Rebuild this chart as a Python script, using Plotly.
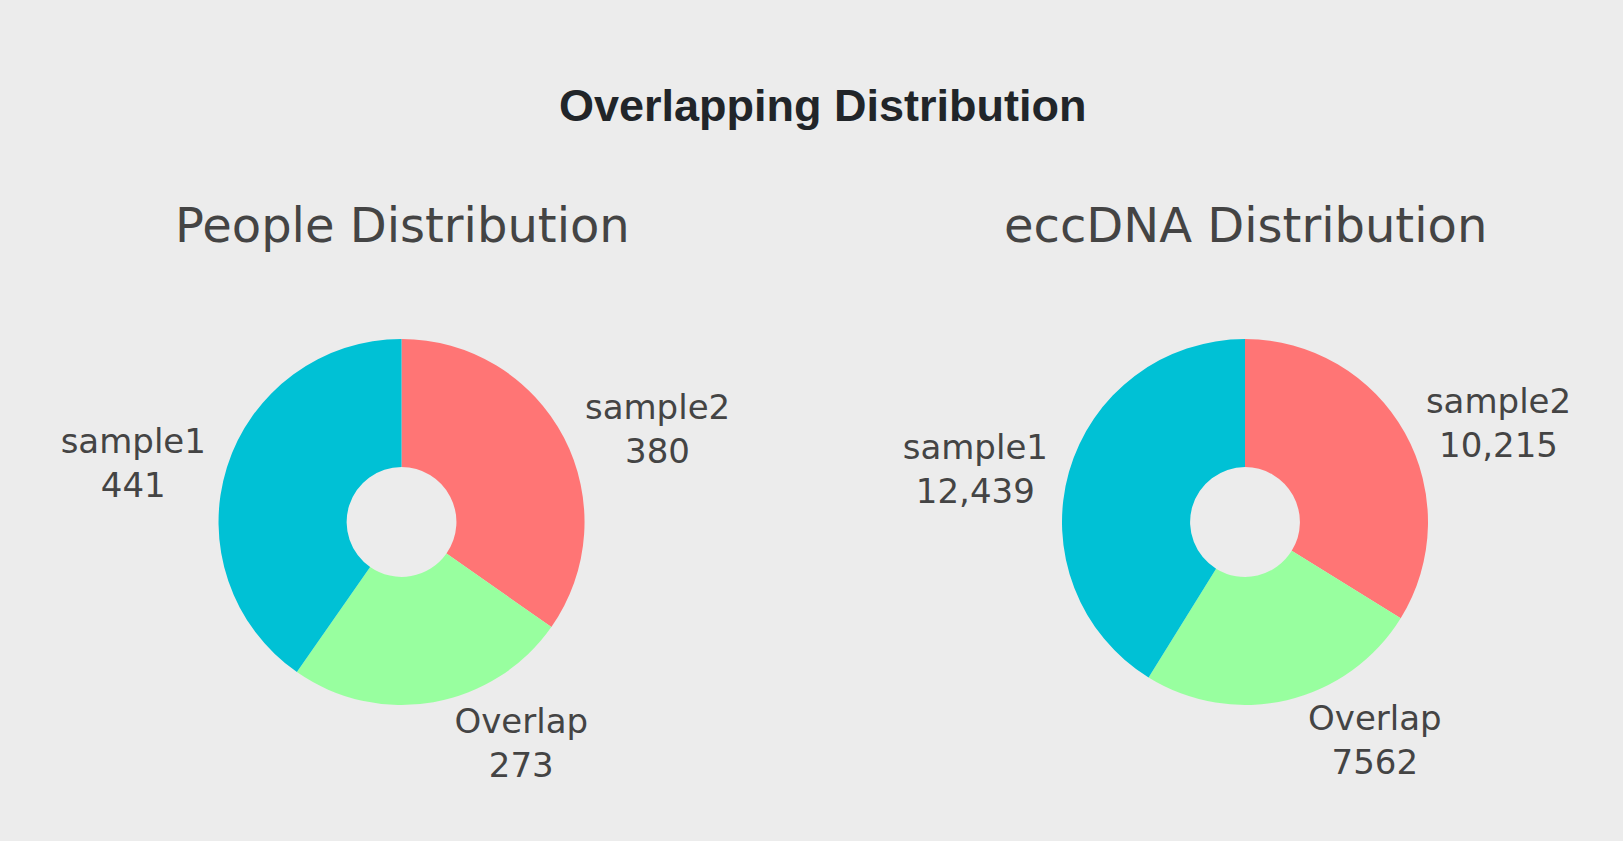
import plotly.graph_objects as go

# Data
labels = ["sample2", "Overlap", "sample1"]
people_values = [380, 273, 441]
eccdna_values = [10215, 7562, 12439]
subplot_titles = ["People Distribution", "eccDNA Distribution"]
main_title = "Overlapping Distribution"
slice_colors = ["#FF7575", "#98FF9F", "#00C1D5"]

W, H = 1623, 841
label_font = dict(family="DejaVu Sans, Verdana, sans-serif", size=34, color="#444444")

fig = go.Figure()
domains_x = [[0.0974, 0.3974], [0.6171, 0.9171]]
dom_y = [0.16171, 0.59691]
for vals, dx in zip([people_values, eccdna_values], domains_x):
    fig.add_trace(go.Pie(
        labels=labels, values=vals, sort=False, direction="clockwise",
        rotation=0, hole=0.3, textinfo="label+value", textposition="outside",
        marker=dict(colors=slice_colors, line=dict(width=0)),
        outsidetextfont=label_font, showlegend=False, automargin=False,
        domain=dict(x=dx, y=dom_y),
    ))

annotations = [
    dict(text="<b>" + main_title + "</b>", x=823 / W, y=1 - 106 / H, xref="paper", yref="paper",
         xanchor="center", yanchor="middle", showarrow=False,
         font=dict(family="Liberation Sans, Arial, sans-serif", size=45, color="#212529")),
]
for t, cx in zip(subplot_titles, [402 / W, 1245 / W]):
    annotations.append(dict(text=t, x=cx, y=1 - 225 / H, xref="paper", yref="paper",
                            xanchor="center", yanchor="middle", showarrow=False,
                            font=dict(family="DejaVu Sans, Verdana, sans-serif", size=48, color="#444444")))

fig.update_layout(
    width=W, height=H, autosize=False,
    margin=dict(l=0, r=0, t=0, b=0, pad=0, autoexpand=False),
    paper_bgcolor="#ECECEC", plot_bgcolor="#ECECEC",
    annotations=annotations,
)
fig.write_html(
    "out.html",
    config={"displayModeBar": False},
    post_script="document.body.style.margin='0';document.body.style.background='#ECECEC';document.body.style.overflow='hidden';",
)
